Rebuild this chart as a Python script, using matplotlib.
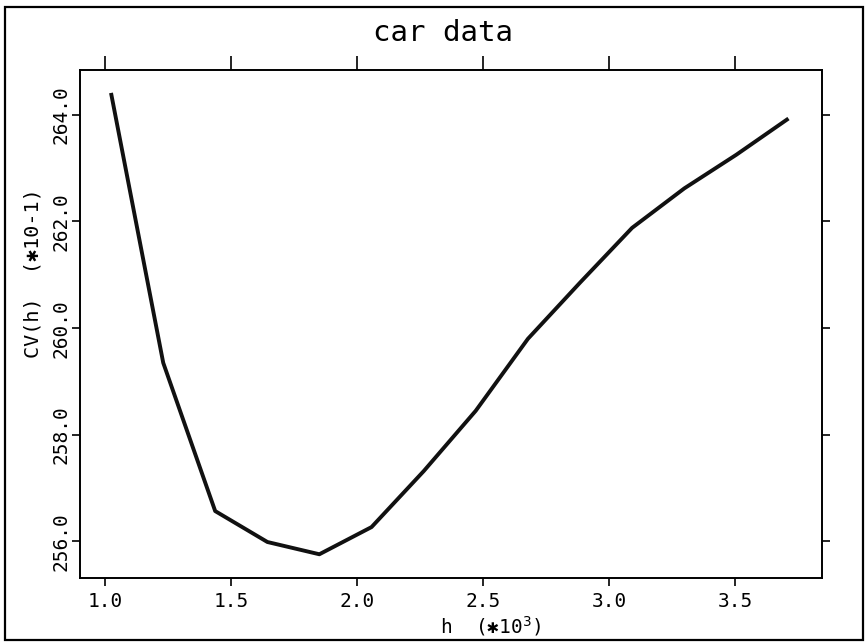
import matplotlib
matplotlib.use("Agg")
import matplotlib.pyplot as plt
from matplotlib.patches import Rectangle

# h (in units of 10^3) and CV(h) (in units of 10^-1)
h_vals = [1.024, 1.231, 1.437, 1.644, 1.850, 2.057, 2.264,
          2.470, 2.677, 2.883, 3.090, 3.297, 3.503, 3.710]
cv_vals = [264.41, 259.35, 256.57, 255.99, 255.76, 256.27, 257.32,
           258.45, 259.80, 260.85, 261.88, 262.62, 263.25, 263.93]

x_ticks = [1.0, 1.5, 2.0, 2.5, 3.0, 3.5]
y_ticks = [256.0, 258.0, 260.0, 262.0, 264.0]

plt.rcParams['font.family'] = ['DejaVu Sans Mono', 'DejaVu Sans']

W, H = 865, 643
fig = plt.figure(figsize=(W / 100, H / 100), dpi=100)

# outer frame around the whole page
fig.patches.append(Rectangle((5 / W, 1 - 640 / H), 858 / W, 633 / H,
                             transform=fig.transFigure, fill=False,
                             edgecolor='black', linewidth=1.6))

ax = fig.add_axes([80 / W, 1 - 578 / H, 742 / W, 508 / H])
ax.plot(h_vals, cv_vals, color='#111111', linewidth=2.8,
        solid_joinstyle='round', solid_capstyle='butt')

ax.set_xlim(0.901, 3.843)
ax.set_ylim(255.315, 264.84)

ax.set_xticks(x_ticks)
ax.set_xticklabels([f'{v:.1f}' for v in x_ticks])
ax.set_yticks(y_ticks)
ax.set_yticklabels([f'{v:.1f}' for v in y_ticks], rotation=90, va='center')

ax.tick_params(axis='both', which='major', direction='out', length=6,
               width=1.2, labelsize=14, color='black')
ax.tick_params(axis='x', top=True, labeltop=False, pad=4)
ax.tick_params(axis='y', right=True, labelright=False, pad=1)
for t in ax.xaxis.get_major_ticks():
    t.tick2line.set_markersize(10)

for s in ax.spines.values():
    s.set_linewidth(1.4)

# title and axis labels
fig.text(443 / W, 1 - 33 / H, 'car data', ha='center', va='center',
         fontsize=21)
fig.text(440 / W, 1 - 626 / H, 'h  (\u273110$^3$)', ha='left', va='center',
         fontsize=14)
fig.text(33 / W, 1 - 358 / H, 'CV(h)  (\u273110-1)', ha='center',
         va='bottom', rotation=90, fontsize=14.5)

fig.savefig('out.png', dpi=100)
